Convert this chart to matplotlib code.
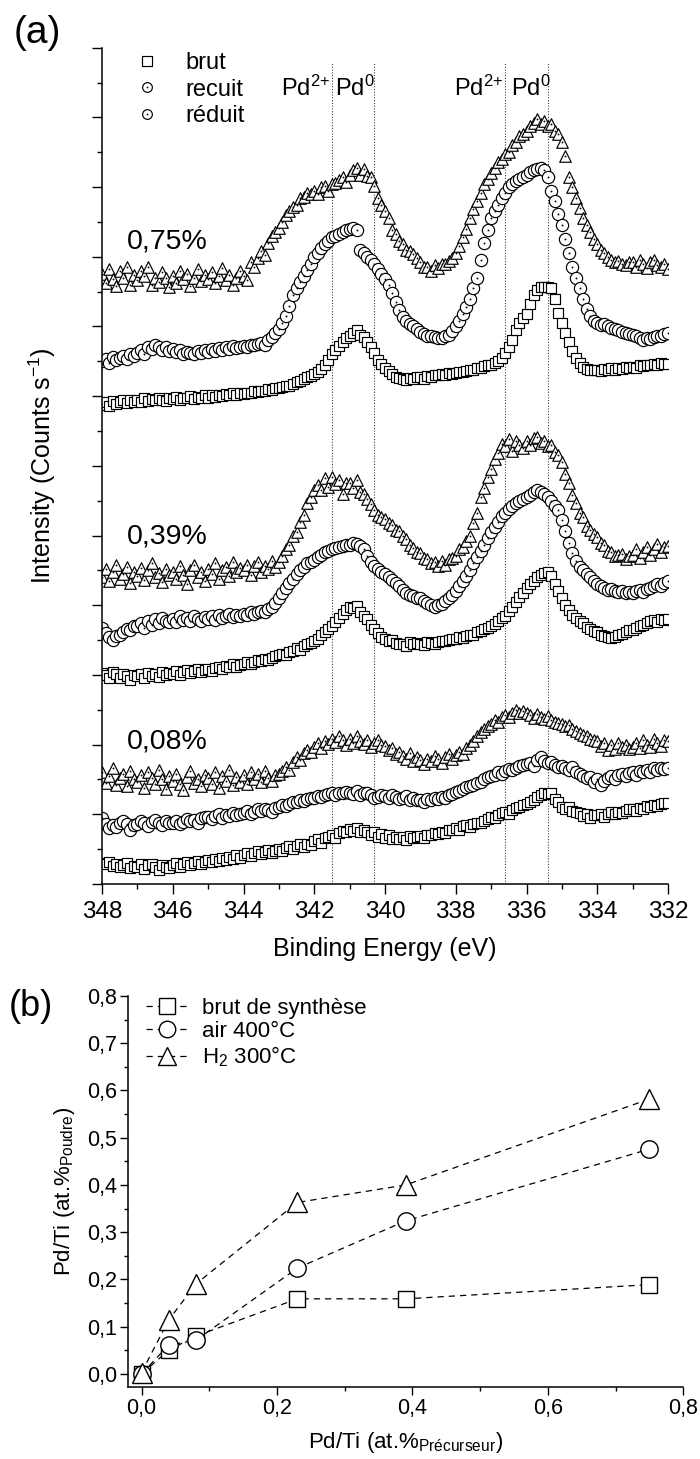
import numpy as np
import matplotlib
matplotlib.use("Agg")
import matplotlib.pyplot as plt
from matplotlib.path import Path
from matplotlib.lines import Line2D
from matplotlib.ticker import MultipleLocator, FixedLocator

plt.rcParams['font.family'] = ['Liberation Sans', 'DejaVu Sans']
plt.rcParams['mathtext.fontset'] = 'custom'
plt.rcParams['mathtext.rm'] = 'Liberation Sans'
plt.rcParams['mathtext.it'] = 'Liberation Sans:italic'
plt.rcParams['mathtext.bf'] = 'Liberation Sans:bold'
plt.rcParams['mathtext.default'] = 'rm'

# ---------------- data : panel (a) -----------------
energy = np.round(np.arange(348.0, 331.95, -0.1), 1)   # binding energy grid (eV)

sq08 = [0.30,0.28,0.31,0.26,0.29,0.24,0.27,0.30,0.23,0.26,
        0.25,0.28,0.22,0.27,0.29,0.24,0.20,0.27,0.25,0.23,
        0.27,0.30,0.24,0.28,0.31,0.27,0.30,0.33,0.28,0.31,
        0.34,0.31,0.36,0.33,0.38,0.35,0.39,0.36,0.41,0.38,
        0.42,0.45,0.40,0.44,0.47,0.43,0.46,0.49,0.45,0.48,
        0.50,0.47,0.52,0.55,0.50,0.54,0.57,0.53,0.58,0.56,
        0.61,0.64,0.59,0.66,0.68,0.70,0.66,0.73,0.76,0.74,
        0.79,0.76,0.80,0.74,0.77,0.75,0.71,0.74,0.68,0.72,
        0.66,0.70,0.64,0.68,0.65,0.67,0.63,0.69,0.66,0.68,
        0.69,0.66,0.71,0.70,0.73,0.72,0.75,0.73,0.77,0.78,
        0.80,0.78,0.83,0.84,0.82,0.86,0.88,0.87,0.91,0.93,
        0.96,0.94,0.99,1.02,1.04,1.01,1.06,1.09,1.11,1.13,
        1.15,1.18,1.21,1.25,1.28,1.31,1.29,1.30,1.22,1.18,
        1.11,1.08,1.10,1.05,1.04,1.02,0.98,1.01,0.95,0.99,
        0.99,1.01,0.96,1.00,1.03,1.01,1.04,1.02,1.05,1.07,
        1.07,1.05,1.09,1.08,1.12,1.10,1.13,1.12,1.15,1.16,
        1.16]
ci08 = [0.94,0.86,0.80,0.84,0.82,0.87,0.91,0.86,0.78,0.84,
        0.86,0.90,0.88,0.83,0.89,0.92,0.87,0.85,0.90,0.88,
        0.88,0.91,0.86,0.89,0.93,0.90,0.92,0.88,0.94,0.96,
        0.96,0.93,0.98,1.00,0.95,0.99,0.97,1.02,0.99,1.01,
        1.02,1.05,1.01,1.04,1.07,1.05,1.08,1.06,1.04,1.09,
        1.10,1.13,1.12,1.15,1.17,1.18,1.20,1.19,1.22,1.23,
        1.24,1.26,1.25,1.28,1.29,1.30,1.28,1.31,1.30,1.32,
        1.31,1.29,1.33,1.28,1.30,1.30,1.27,1.24,1.25,1.27,
        1.26,1.23,1.27,1.25,1.22,1.24,1.26,1.21,1.23,1.20,
        1.21,1.18,1.22,1.20,1.23,1.22,1.25,1.24,1.27,1.29,
        1.32,1.34,1.37,1.39,1.41,1.42,1.45,1.47,1.50,1.53,
        1.55,1.57,1.60,1.58,1.62,1.65,1.63,1.67,1.69,1.71,
        1.72,1.74,1.70,1.78,1.82,1.76,1.73,1.75,1.71,1.68,
        1.70,1.66,1.64,1.68,1.60,1.58,1.55,1.52,1.54,1.47,
        1.50,1.42,1.48,1.52,1.55,1.51,1.56,1.58,1.55,1.59,
        1.60,1.57,1.62,1.61,1.64,1.60,1.66,1.63,1.67,1.65,
        1.67]
tr08 = [1.60,1.45,1.55,1.66,1.42,1.52,1.58,1.40,1.62,1.50,
        1.47,1.56,1.38,1.60,1.52,1.44,1.64,1.50,1.36,1.55,
        1.48,1.58,1.43,1.35,1.54,1.62,1.45,1.50,1.40,1.57,
        1.52,1.44,1.60,1.38,1.55,1.48,1.63,1.42,1.53,1.47,
        1.56,1.44,1.60,1.50,1.58,1.46,1.62,1.52,1.48,1.57,
        1.58,1.62,1.68,1.63,1.75,1.82,1.78,1.88,1.92,1.90,
        1.97,2.02,1.95,2.05,2.01,2.08,2.04,2.12,2.06,2.00,
        2.08,2.03,2.12,2.05,2.01,2.06,1.97,2.03,2.07,1.99,
        1.98,1.92,1.95,1.86,1.90,1.84,1.80,1.88,1.76,1.82,
        1.78,1.72,1.80,1.76,1.83,1.79,1.74,1.82,1.86,1.80,
        1.85,1.90,1.87,1.95,2.00,2.05,2.12,2.18,2.22,2.27,
        2.30,2.35,2.33,2.39,2.42,2.40,2.45,2.49,2.46,2.48,
        2.45,2.42,2.38,2.44,2.40,2.37,2.41,2.35,2.33,2.31,
        2.30,2.26,2.28,2.22,2.20,2.17,2.14,2.12,2.08,2.06,
        2.05,1.98,2.03,1.92,2.00,1.94,2.02,1.96,1.99,1.93,
        1.97,2.03,1.95,2.06,2.00,1.96,2.08,2.02,1.98,2.07,
        2.05]
sq39 = [3.03,3.00,2.96,3.04,3.01,2.95,3.02,2.99,2.93,3.00,
        2.98,3.01,2.96,3.03,2.99,3.02,2.97,3.04,3.00,3.03,
        3.02,3.05,3.00,3.04,3.07,3.03,3.06,3.08,3.04,3.07,
        3.08,3.06,3.10,3.12,3.09,3.13,3.11,3.15,3.12,3.14,
        3.15,3.18,3.16,3.19,3.22,3.20,3.23,3.21,3.25,3.27,
        3.28,3.30,3.29,3.33,3.35,3.38,3.36,3.41,3.44,3.46,
        3.48,3.52,3.57,3.62,3.66,3.70,3.76,3.82,3.88,3.93,
        3.98,3.96,3.99,3.90,3.85,3.80,3.72,3.66,3.60,3.55,
        3.52,3.48,3.50,3.46,3.44,3.45,3.42,3.47,3.44,3.46,
        3.45,3.43,3.47,3.46,3.44,3.47,3.49,3.48,3.50,3.51,
        3.52,3.54,3.53,3.56,3.58,3.58,3.61,3.63,3.66,3.68,
        3.70,3.73,3.77,3.81,3.85,3.92,3.98,4.05,4.12,4.18,
        4.25,4.30,4.35,4.40,4.44,4.46,4.48,4.42,4.30,4.20,
        4.10,4.01,3.93,3.86,3.82,3.78,3.74,3.69,3.66,3.63,
        3.62,3.58,3.56,3.55,3.53,3.55,3.57,3.59,3.62,3.64,
        3.65,3.68,3.70,3.72,3.75,3.77,3.79,3.76,3.80,3.79,
        3.80]
ci39 = [3.68,3.60,3.55,3.50,3.56,3.58,3.62,3.66,3.64,3.70,
        3.70,3.74,3.68,3.77,3.72,3.80,3.75,3.82,3.78,3.76,
        3.80,3.76,3.84,3.79,3.82,3.78,3.85,3.80,3.77,3.83,
        3.80,3.84,3.79,3.86,3.81,3.84,3.88,3.83,3.86,3.85,
        3.88,3.86,3.90,3.87,3.91,3.92,3.90,3.94,3.97,4.03,
        4.10,4.17,4.25,4.32,4.38,4.45,4.50,4.55,4.60,4.62,
        4.65,4.69,4.72,4.76,4.78,4.80,4.82,4.84,4.85,4.87,
        4.87,4.89,4.88,4.85,4.80,4.70,4.62,4.57,4.52,4.48,
        4.45,4.40,4.36,4.32,4.27,4.22,4.18,4.15,4.13,4.11,
        4.10,4.06,4.03,4.00,3.98,4.01,4.02,4.06,4.10,4.15,
        4.20,4.28,4.35,4.42,4.50,4.60,4.69,4.78,4.87,4.96,
        5.05,5.12,5.20,5.28,5.33,5.38,5.42,5.46,5.50,5.52,
        5.55,5.58,5.62,5.65,5.63,5.60,5.55,5.49,5.42,5.36,
        5.22,5.07,4.90,4.75,4.64,4.55,4.50,4.45,4.40,4.35,
        4.30,4.28,4.25,4.22,4.24,4.20,4.19,4.21,4.17,4.19,
        4.18,4.20,4.22,4.19,4.23,4.25,4.27,4.30,4.28,4.32,
        4.35]
tr39 = [4.40,4.52,4.35,4.48,4.58,4.38,4.45,4.55,4.32,4.47,
        4.42,4.54,4.36,4.50,4.60,4.40,4.46,4.33,4.52,4.44,
        4.48,4.37,4.56,4.44,4.30,4.50,4.58,4.41,4.47,4.35,
        4.52,4.45,4.60,4.38,4.50,4.55,4.42,4.62,4.47,4.53,
        4.50,4.58,4.44,4.56,4.62,4.48,4.57,4.52,4.64,4.55,
        4.62,4.70,4.80,4.86,4.99,5.05,5.20,5.30,5.47,5.55,
        5.65,5.72,5.66,5.82,5.70,5.84,5.74,5.80,5.60,5.76,
        5.75,5.68,5.80,5.62,5.60,5.52,5.45,5.36,5.30,5.26,
        5.24,5.18,5.15,5.08,5.06,5.00,4.95,4.86,4.82,4.76,
        4.75,4.68,4.66,4.60,4.62,4.56,4.64,4.58,4.66,4.68,
        4.70,4.80,4.84,4.92,5.00,5.18,5.33,5.56,5.68,5.84,
        5.95,6.10,6.18,6.32,6.28,6.38,6.22,6.36,6.30,6.26,
        6.35,6.30,6.40,6.42,6.33,6.36,6.28,6.30,6.20,6.15,
        6.05,5.88,5.76,5.58,5.46,5.32,5.26,5.14,5.08,5.02,
        4.98,4.90,4.86,4.78,4.76,4.70,4.72,4.74,4.66,4.71,
        4.72,4.80,4.68,4.76,4.84,4.72,4.80,4.88,4.76,4.84,
        4.85]
sq75 = [6.88,6.91,6.86,6.93,6.89,6.92,6.95,6.90,6.94,6.91,
        6.94,6.92,6.97,6.93,6.96,6.94,6.98,6.95,6.93,6.97,
        6.96,6.99,6.95,6.98,6.97,7.00,6.96,6.99,6.97,7.01,
        6.98,7.01,6.99,7.02,7.00,7.03,7.01,7.04,7.02,7.05,
        7.03,7.05,7.04,7.07,7.06,7.08,7.07,7.10,7.09,7.11,
        7.12,7.13,7.15,7.14,7.18,7.20,7.22,7.24,7.27,7.29,
        7.32,7.35,7.39,7.45,7.52,7.60,7.66,7.72,7.78,7.83,
        7.86,7.90,7.95,7.88,7.85,7.77,7.70,7.62,7.52,7.46,
        7.40,7.36,7.32,7.28,7.26,7.25,7.23,7.26,7.24,7.27,
        7.27,7.25,7.29,7.28,7.30,7.30,7.32,7.31,7.33,7.32,
        7.33,7.35,7.34,7.36,7.37,7.38,7.40,7.41,7.43,7.44,
        7.45,7.48,7.51,7.55,7.62,7.70,7.80,7.95,8.05,8.12,
        8.18,8.32,8.45,8.52,8.56,8.57,8.56,8.55,8.40,8.20,
        8.05,7.90,7.78,7.65,7.55,7.47,7.42,7.39,7.37,7.38,
        7.38,7.36,7.39,7.37,7.40,7.38,7.41,7.39,7.42,7.41,
        7.42,7.40,7.44,7.43,7.45,7.44,7.46,7.45,7.47,7.46,
        7.46]
ci75 = [7.50,7.54,7.48,7.56,7.52,7.55,7.58,7.53,7.60,7.57,
        7.62,7.66,7.60,7.70,7.68,7.74,7.71,7.66,7.70,7.65,
        7.68,7.63,7.66,7.61,7.64,7.62,7.60,7.65,7.62,7.66,
        7.64,7.67,7.65,7.69,7.66,7.70,7.68,7.72,7.69,7.71,
        7.72,7.70,7.74,7.73,7.75,7.76,7.74,7.80,7.85,7.90,
        7.96,8.05,8.15,8.30,8.45,8.55,8.64,8.72,8.81,8.90,
        9.00,9.06,9.12,9.18,9.22,9.28,9.30,9.32,9.35,9.38,
        9.40,9.42,9.38,9.10,9.05,9.00,8.95,8.90,8.82,8.75,
        8.68,8.60,8.48,8.35,8.24,8.13,8.08,8.03,8.00,7.96,
        7.92,7.89,7.87,7.86,7.85,7.84,7.84,7.86,7.88,7.93,
        8.00,8.08,8.18,8.28,8.40,8.55,8.70,8.95,9.20,9.38,
        9.55,9.65,9.75,9.85,9.92,10.00,10.05,10.09,10.12,10.15,
        10.18,10.21,10.25,10.26,10.28,10.24,10.15,9.95,9.80,9.62,
        9.45,9.25,9.05,8.85,8.70,8.55,8.40,8.25,8.15,8.08,
        8.05,8.02,8.04,8.00,7.98,7.97,7.95,7.92,7.90,7.89,
        7.88,7.86,7.84,7.80,7.83,7.82,7.85,7.87,7.86,7.89,
        7.90]
tr75 = [8.75,8.62,8.82,8.68,8.58,8.80,8.70,8.85,8.60,8.74,
        8.66,8.80,8.72,8.86,8.60,8.70,8.64,8.78,8.69,8.57,
        8.72,8.63,8.80,8.68,8.76,8.58,8.70,8.82,8.65,8.74,
        8.68,8.78,8.62,8.72,8.84,8.66,8.74,8.60,8.70,8.79,
        8.72,8.66,8.92,8.85,8.98,9.08,9.02,9.20,9.30,9.36,
        9.42,9.50,9.60,9.66,9.72,9.74,9.84,9.86,9.92,9.90,
        9.95,9.90,10.00,10.02,9.94,10.04,10.06,10.10,10.14,10.08,
        10.18,10.24,10.28,10.18,10.26,10.16,10.15,10.02,9.85,9.75,
        9.65,9.55,9.38,9.32,9.22,9.18,9.10,9.08,9.04,8.98,
        8.92,8.86,8.85,8.80,8.88,8.84,8.90,8.89,8.94,8.98,
        9.05,9.15,9.28,9.40,9.55,9.68,9.80,9.92,10.05,10.12,
        10.20,10.28,10.36,10.40,10.47,10.50,10.60,10.64,10.74,10.76,
        10.80,10.88,10.92,10.97,10.90,10.95,10.88,10.90,10.80,10.76,
        10.65,10.45,10.15,10.00,9.85,9.70,9.55,9.45,9.35,9.25,
        9.18,9.10,9.05,9.00,8.96,8.92,8.94,8.90,8.88,8.93,
        8.93,8.86,8.95,8.90,8.84,8.92,8.96,8.88,8.85,8.90,
        8.82]

sample_labels = ['0,75%', '0,39%', '0,08%']
sample_label_y = [9.12, 4.88, 1.95]
legend_a = ['brut', 'recuit', 'réduit']
peak_lines = [341.5, 340.3, 336.6, 335.4]
xticks_a = [348, 346, 344, 342, 340, 338, 336, 334, 332]
xticklabels_a = ['348', '346', '344', '342', '340', '338', '336', '334', '332']

# ---------------- data : panel (b) -----------------
x_prec = [0.0, 0.04, 0.08, 0.23, 0.39, 0.75]
pd_brut = [0.0, 0.050, 0.080, 0.159, 0.159, 0.189]
pd_air = [0.0, 0.061, 0.071, 0.224, 0.324, 0.476]
pd_h2 = [0.003, 0.114, 0.190, 0.363, 0.400, 0.582]
legend_b = ['brut de synthèse', 'air 400°C', 'H$_2$ 300°C']
xticks_b = [0.0, 0.2, 0.4, 0.6, 0.8]
xticklabels_b = ['0,0', '0,2', '0,4', '0,6', '0,8']
yticks_b = [0.0, 0.1, 0.2, 0.3, 0.4, 0.5, 0.6, 0.7, 0.8]
yticklabels_b = ['0,0', '0,1', '0,2', '0,3', '0,4', '0,5', '0,6', '0,7', '0,8']

# ---------------- marker shapes with centre dot (Origin style) -----------------
def with_dot(base):
    d = 0.05
    dot = Path([(-d, -d), (d, -d), (d, d), (-d, d), (-d, -d)],
               [Path.MOVETO, Path.LINETO, Path.LINETO, Path.LINETO, Path.CLOSEPOLY])
    return Path.make_compound_path(base, dot)

sq_path = with_dot(Path([(-1, -1), (1, -1), (1, 1), (-1, 1), (-1, -1)],
                        [Path.MOVETO, Path.LINETO, Path.LINETO, Path.LINETO, Path.CLOSEPOLY]))
ci_path = with_dot(Path.unit_circle())
tr_path = with_dot(Path([(0, 1), (-1, -1), (1, -1), (0, 1)],
                        [Path.MOVETO, Path.LINETO, Path.LINETO, Path.CLOSEPOLY]))

W, H = 700, 1459
fig = plt.figure(figsize=(W / 100, H / 100), dpi=100)

# ================= panel (a) =================
ax = fig.add_axes([102 / W, 1 - 884 / H, 566 / W, (884 - 47.7) / H])
groups = [(sq75, ci75, tr75), (sq39, ci39, tr39), (sq08, ci08, tr08)]
mstyle = dict(ls='none', mfc='white', mec='black', mew=0.85)
for sq, ci, tr in groups:
    ax.plot(energy, sq, marker=sq_path, ms=7.4, **mstyle)
    ax.plot(energy, ci, marker=ci_path, ms=8.8, **mstyle)
    ax.plot(energy, tr, marker=tr_path, ms=8.3, **mstyle)

for e in peak_lines:
    ax.axvline(e, ymin=0, ymax=0.982, color='0.25', lw=0.8, ls=(0, (1, 1.5)), zorder=0.5)

ax.set_xlim(348, 332)
ax.set_ylim(0, 12)
ax.xaxis.set_major_locator(FixedLocator(xticks_a))
ax.set_xticklabels(xticklabels_a)
ax.xaxis.set_minor_locator(MultipleLocator(1))
ax.yaxis.set_major_locator(MultipleLocator(1))
ax.yaxis.set_minor_locator(MultipleLocator(0.5))
ax.tick_params(axis='both', which='major', direction='out', length=7.2, width=1.0)
ax.tick_params(axis='both', which='minor', direction='out', length=3.6, width=1.0)
ax.tick_params(axis='x', which='major', labelsize=17.5, pad=5)
ax.tick_params(axis='y', labelleft=False)
for s in ['top', 'right']:
    ax.spines[s].set_visible(False)
for s in ['left', 'bottom']:
    ax.spines[s].set_linewidth(1.1)

ax.set_xlabel('Binding Energy (eV)', fontsize=18)
ax.xaxis.set_label_coords(0.5, -0.063)
ax.set_ylabel('Intensity (Counts s$^{-1}$)', fontsize=18)
ax.yaxis.set_label_coords(-0.078, 0.5)

for lab, yv in zip(sample_labels, sample_label_y):
    ax.text(347.29, yv, lab, fontsize=20.5, ha='left', va='baseline')

ax.text(peak_lines[0] + 0.05, 11.31, 'Pd$^{2{+}}$', fontsize=17, ha='right', va='baseline')
ax.text(peak_lines[0] - 0.09, 11.31, 'Pd$^{0}$', fontsize=17, ha='left', va='baseline')
ax.text(peak_lines[2] + 0.05, 11.31, 'Pd$^{2{+}}$', fontsize=17, ha='right', va='baseline')
ax.text(peak_lines[2] - 0.16, 11.31, 'Pd$^{0}$', fontsize=17, ha='left', va='baseline')

handles_a = [Line2D([], [], marker=sq_path, ms=6.5, **mstyle),
             Line2D([], [], marker=ci_path, ms=7.0, **mstyle),
             Line2D([], [], marker=ci_path, ms=7.0, **mstyle)]
ax.legend(handles_a, legend_a, loc='upper left', bbox_to_anchor=(0.059, 0.995),
          frameon=False, fontsize=17, handlelength=1.0, handletextpad=1.1,
          borderpad=0, borderaxespad=0, labelspacing=0.2)

# ================= panel (b) =================
bx = fig.add_axes([128 / W, 1 - 1386.7 / H, 555.3 / W, (1386.7 - 996) / H])
lstyle = dict(color='black', lw=0.9, ls=(0, (5, 4)), mfc='white', mec='black', mew=1.0)
bx.plot(x_prec, pd_brut, marker='s', ms=11.5, label=legend_b[0], **lstyle)
bx.plot(x_prec, pd_air, marker='o', ms=12.5, label=legend_b[1], **lstyle)
bx.plot(x_prec, pd_h2, marker='^', ms=14, label=legend_b[2], **lstyle)
bx.set_xlim(-0.02, 0.8)
bx.set_ylim(-0.027, 0.8)
bx.xaxis.set_major_locator(FixedLocator(xticks_b))
bx.set_xticklabels(xticklabels_b)
bx.yaxis.set_major_locator(FixedLocator(yticks_b))
bx.set_yticklabels(yticklabels_b)
bx.xaxis.set_minor_locator(MultipleLocator(0.1))
bx.yaxis.set_minor_locator(MultipleLocator(0.05))
bx.tick_params(axis='both', which='major', direction='out', length=5.5, width=1.0, labelsize=15.5, pad=2.5)
bx.tick_params(axis='both', which='minor', direction='out', length=3, width=1.0)
for s in ['top', 'right']:
    bx.spines[s].set_visible(False)
for s in ['left', 'bottom']:
    bx.spines[s].set_linewidth(1.1)
bx.set_xlabel('Pd/Ti (at.%$_{\\mathrm{Précurseur}}$)', fontsize=16)
bx.xaxis.set_label_coords(0.5, -0.11)
bx.set_ylabel('Pd/Ti (at.%$_{\\mathrm{Poudre}}$)', fontsize=16)
bx.yaxis.set_label_coords(-0.092, 0.5)
bx.legend(loc='upper left', bbox_to_anchor=(0.032, 0.995), frameon=False, fontsize=16,
          handlelength=1.87, handletextpad=0.65, borderpad=0, borderaxespad=0,
          labelspacing=0.1, markerscale=0.95)

fig.text(37 / W, 1 - 33 / H, '(a)', fontsize=28, ha='center', va='center')
fig.text(31 / W, 1 - 1006 / H, '(b)', fontsize=26, ha='center', va='center')

fig.savefig('out.png', dpi=100)
